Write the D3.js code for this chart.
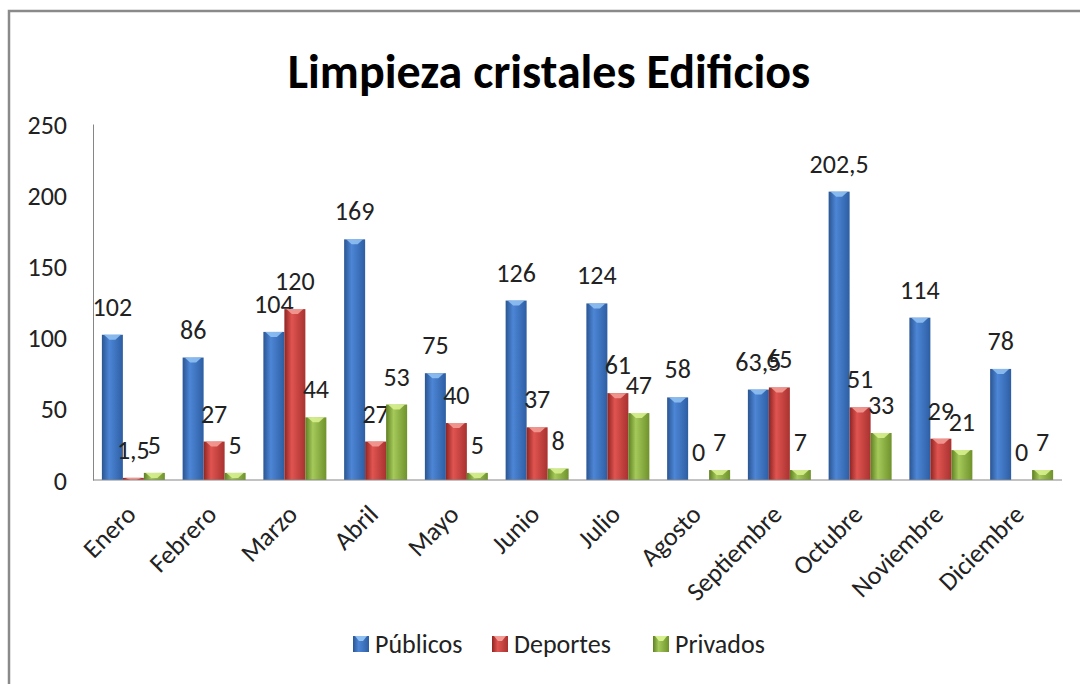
<!DOCTYPE html>
<html>
<meta charset="utf-8">
<script src="https://d3js.org/d3.v7.js"></script>
<style>
  body { margin: 0; background: #fff; }
  text { font-family: Carlito, Calibri, Lato, "Open Sans", sans-serif; fill: #222; }
</style>
<body>
<div id="my_dataviz"></div>
</body>
<script type="text/javascript">
  // data
  var months = ["Enero", "Febrero", "Marzo", "Abril", "Mayo", "Junio", "Julio",
                "Agosto", "Septiembre", "Octubre", "Noviembre", "Diciembre"];
  var series = ["Públicos", "Deportes", "Privados"];
  var publicos = [102, 86, 104, 169, 75, 126, 124, 58, 63.5, 202.5, 114, 78];
  var deportes = [1.5, 27, 120, 27, 40, 37, 61, 0, 65, 51, 29, 0];
  var privados = [5, 5, 44, 53, 5, 8, 47, 7, 7, 33, 21, 7];
  var yTicks = [0, 50, 100, 150, 200, 250];

  var colors = {
    "Públicos": ["#2a5592", "#4d86d6", "#2d5ea3"],
    "Deportes": ["#8e2421", "#e05450", "#a83230"],
    "Privados": ["#5f7f22", "#a5c95a", "#6f922c"]
  };
  var tops = { "Públicos": "#8fc0f2", "Deportes": "#f39b95", "Privados": "#d6f08e" };

  var rows = months.map(function(m, i) {
    return { month: m, values: [publicos[i], deportes[i], privados[i]] };
  });

  var W = 1080, H = 684;
  var svg = d3.select("#my_dataviz").append("svg")
    .attr("width", W).attr("height", H);

  // gradients
  var defs = svg.append("defs");
  series.forEach(function(s, k) {
    var g = defs.append("linearGradient").attr("id", "grad" + k)
      .attr("x1", "0%").attr("x2", "100%").attr("y1", "0%").attr("y2", "0%");
    g.append("stop").attr("offset", "0%").attr("stop-color", colors[s][0]);
    g.append("stop").attr("offset", "35%").attr("stop-color", colors[s][1]);
    g.append("stop").attr("offset", "100%").attr("stop-color", colors[s][2]);
  });

  // frame
  svg.append("rect")
    .attr("x", 9).attr("y", 11).attr("width", 1100).attr("height", 700)
    .attr("fill", "none").attr("stroke", "#8a8a8a").attr("stroke-width", 2.5);

  // title
  svg.append("text")
    .attr("x", 549).attr("y", 88)
    .attr("text-anchor", "middle")
    .style("font-size", "48px").style("font-weight", "bold")
    .style("fill", "#000")
    .text("Limpieza cristales Edificios");

  var x0 = d3.scaleBand().domain(months).range([93, 1062])
    .paddingInner(0.22).paddingOuter(0.11);
  var x1 = d3.scaleBand().domain(series).range([0, x0.bandwidth()]);
  var y = d3.scaleLinear().domain([0, 250]).range([480, 124]);

  // y axis
  var yAxis = svg.append("g")
    .attr("transform", "translate(93,0)")
    .call(d3.axisLeft(y).tickValues(yTicks).tickSize(0).tickPadding(26));
  yAxis.select(".domain").attr("stroke", "#868686");
  yAxis.selectAll("text").style("font-size", "26px")
    .attr("font-family", null).attr("dy", "0.35em");

  // bars
  var groups = svg.selectAll("g.month").data(rows).enter().append("g")
    .attr("class", "month")
    .attr("transform", function(d) { return "translate(" + x0(d.month) + ",0)"; });

  var cells = groups.selectAll("g.bar")
    .data(function(d) { return d.values.map(function(v, k) { return { s: series[k], k: k, v: v }; }); })
    .enter().append("g").attr("class", "bar");

  cells.append("rect")
    .attr("x", function(d) { return x1(d.s); })
    .attr("y", function(d) { return y(d.v); })
    .attr("width", x1.bandwidth())
    .attr("height", function(d) { return 480 - y(d.v); })
    .attr("fill", function(d) { return "url(#grad" + d.k + ")"; });

  // small bevel highlight on the top of each bar
  cells.filter(function(d) { return d.v > 0; }).append("path")
    .attr("d", function(d) {
      var a = x1(d.s), b = a + x1.bandwidth(), t = y(d.v);
      var h = Math.min(5, 480 - t);
      var m = (a + b) / 2;
      return "M" + (a + 2) + "," + t + "L" + (b - 2) + "," + t +
             "L" + (m + 3) + "," + (t + h) + "L" + (m - 3) + "," + (t + h) + "Z";
    })
    .attr("fill", function(d) { return tops[d.s]; })
    .attr("opacity", 0.9);

  // value labels
  cells.append("text")
    .attr("x", function(d) { return x1(d.s) + x1.bandwidth() / 2; })
    .attr("y", function(d) { return y(d.v) - 19; })
    .attr("text-anchor", "middle")
    .style("font-size", "26px")
    .text(function(d) { return String(d.v).replace(".", ","); });

  // x axis
  var xAxis = svg.append("g")
    .attr("transform", "translate(0,480)")
    .call(d3.axisBottom(x0).tickSize(0).tickSizeOuter(0).tickPadding(0));
  xAxis.select(".domain").attr("stroke", "#868686").attr("d", "M93,0H1062");
  xAxis.selectAll("text")
    .attr("font-family", null)
    .style("font-size", "26px")
    .attr("text-anchor", "end")
    .attr("dy", null).attr("y", null)
    .attr("transform", "translate(4,36) rotate(-45)");

  // legend
  var legendX = [353, 492, 653];
  var legend = svg.selectAll("g.legend").data(series).enter().append("g")
    .attr("class", "legend")
    .attr("transform", function(d, k) { return "translate(" + legendX[k] + ",636)"; });
  legend.append("rect")
    .attr("width", 16).attr("height", 16)
    .attr("fill", function(d, k) { return "url(#grad" + k + ")"; });
  legend.append("path")
    .attr("d", "M2,0L14,0L10,5L6,5Z")
    .attr("fill", function(d) { return tops[d]; });
  legend.append("text")
    .attr("x", 22).attr("y", 8).attr("dy", "0.35em")
    .style("font-size", "26px")
    .text(function(d) { return d; });
</script>
</html>
